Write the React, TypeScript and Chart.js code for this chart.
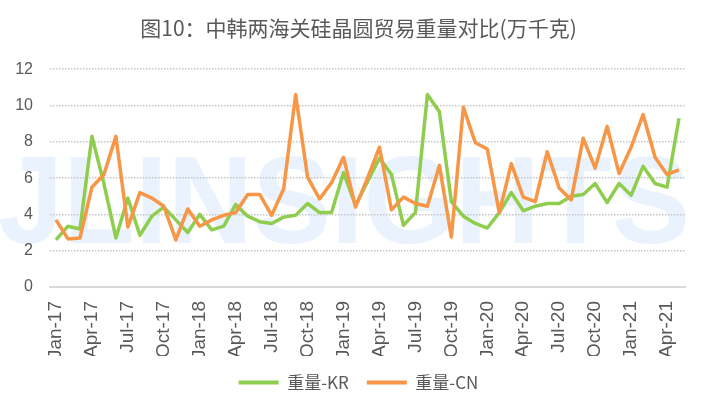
import React, { useEffect, useRef } from 'react';
import { Chart, registerables } from 'chart.js';

Chart.register(...registerables);

const months = [
  'Jan-17', 'Feb-17', 'Mar-17', 'Apr-17', 'May-17', 'Jun-17', 'Jul-17', 'Aug-17', 'Sep-17', 'Oct-17', 'Nov-17', 'Dec-17',
  'Jan-18', 'Feb-18', 'Mar-18', 'Apr-18', 'May-18', 'Jun-18', 'Jul-18', 'Aug-18', 'Sep-18', 'Oct-18', 'Nov-18', 'Dec-18',
  'Jan-19', 'Feb-19', 'Mar-19', 'Apr-19', 'May-19', 'Jun-19', 'Jul-19', 'Aug-19', 'Sep-19', 'Oct-19', 'Nov-19', 'Dec-19',
  'Jan-20', 'Feb-20', 'Mar-20', 'Apr-20', 'May-20', 'Jun-20', 'Jul-20', 'Aug-20', 'Sep-20', 'Oct-20', 'Nov-20', 'Dec-20',
  'Jan-21', 'Feb-21', 'Mar-21', 'Apr-21', 'May-21',
];

// 重量-KR
const weightKR = [
  2.6, 3.35, 3.2, 8.3, 5.7, 2.7, 4.9, 2.85, 3.9, 4.4, 3.7, 3.0,
  4.0, 3.15, 3.35, 4.55, 3.9, 3.6, 3.5, 3.85, 3.95, 4.6, 4.1, 4.1,
  6.3, 4.5, 5.8, 7.1, 6.2, 3.4, 4.1, 10.6, 9.65, 4.7, 3.9, 3.5,
  3.25, 4.1, 5.2, 4.2, 4.45, 4.6, 4.6, 5.0, 5.1, 5.7, 4.65, 5.7,
  5.05, 6.65, 5.7, 5.5, 9.3,
];

// 重量-CN
const weightCN = [
  3.7, 2.65, 2.7, 5.5, 6.2, 8.3, 3.3, 5.2, 4.9, 4.45, 2.6, 4.3,
  3.35, 3.7, 3.95, 4.1, 5.1, 5.1, 3.95, 5.4, 10.6, 6.05, 4.85, 5.75,
  7.15, 4.4, 6.0, 7.7, 4.25, 4.95, 4.6, 4.45, 6.7, 2.75, 9.9, 7.95,
  7.6, 4.1, 6.8, 4.95, 4.7, 7.45, 5.45, 4.8, 8.2, 6.55, 8.85, 6.25,
  7.7, 9.5, 7.15, 6.2, 6.45,
];

const yTicks = [0, 2, 4, 6, 8, 10, 12];

const GREEN = '#8FCD4E';
const ORANGE = '#F79646';
const TEXT = '#595959';

// faint brand text behind the plot
const watermark = {
  id: 'watermark',
  beforeDraw(chart: Chart) {
    const ctx = chart.ctx;
    ctx.save();
    ctx.font = 'bold 124px "Liberation Sans", Arial, sans-serif';
    ctx.fillStyle = '#EAF3FD';
    ctx.textBaseline = 'alphabetic';
    const text = 'JLINSIGHTS';
    const w = ctx.measureText(text).width;
    const target = 692;
    ctx.translate(-2, 243);
    ctx.scale(target / w, 1);
    ctx.fillText(text, 0, 0);
    ctx.restore();
  },
};

const App: React.FC = () => {
  const canvasRef = useRef<HTMLCanvasElement>(null);
  const chartRef = useRef<Chart | null>(null);

  useEffect(() => {
    if (!canvasRef.current) return;
    if (chartRef.current) chartRef.current.destroy();

    chartRef.current = new Chart(canvasRef.current, {
      type: 'line',
      data: {
        labels: months,
        datasets: [
          {
            label: '重量-KR',
            data: weightKR,
            borderColor: GREEN,
            backgroundColor: GREEN,
            borderWidth: 3.5,
            pointRadius: 0,
            tension: 0,
            borderJoinStyle: 'round',
            order: 1,
          },
          {
            label: '重量-CN',
            data: weightCN,
            borderColor: ORANGE,
            backgroundColor: ORANGE,
            borderWidth: 3.5,
            pointRadius: 0,
            tension: 0,
            borderJoinStyle: 'round',
            order: 0,
          },
        ],
      },
      options: {
        responsive: true,
        maintainAspectRatio: false,
        animation: false,
        // side padding keeps title and legend centred like the original
        layout: { padding: { left: 16, right: 8, top: 0, bottom: 12 } },
        scales: {
          x: {
            offset: true,
            grid: { display: false },
            border: { display: true, color: '#D9D9D9', width: 2 },
            ticks: {
              autoSkip: false,
              minRotation: 90,
              maxRotation: 90,
              padding: 6,
              color: TEXT,
              font: { size: 19, family: '"Liberation Sans", Arial, sans-serif' },
              callback: (_v, i) => (i % 3 === 0 ? months[i] : ''),
            },
            afterFit: (scale) => {
              scale.height = 69;
            },
          },
          y: {
            min: yTicks[0],
            max: yTicks[yTicks.length - 1],
            afterBuildTicks: (scale) => {
              scale.ticks = yTicks.map((v) => ({ value: v }));
            },
            grid: {
              drawTicks: false,
              lineWidth: 1.5,
              color: (ctx) => (ctx.tick && ctx.tick.value === 0 ? 'rgba(0,0,0,0)' : '#C6C6C6'),
            },
            border: { display: false, dash: [1.5, 1.5] },
            ticks: {
              padding: 17,
              color: TEXT,
              font: { size: 16, family: '"Liberation Sans", Arial, sans-serif' },
            },
            afterFit: (scale) => {
              scale.width = 34;
            },
          },
          // empty right-hand spacer so the plot ends where the original does
          spacer: {
            type: 'linear',
            position: 'right',
            display: true,
            grid: { display: false, drawOnChartArea: false },
            border: { display: false },
            ticks: { display: false },
            afterFit: (scale) => {
              scale.width = 16;
            },
          },
        },
        plugins: {
          title: {
            display: true,
            text: '图10：中韩两海关硅晶圆贸易重量对比(万千克)',
            color: TEXT,
            font: { size: 21, weight: 'normal', family: '"Noto Sans CJK SC", sans-serif' },
            padding: { top: 15, bottom: 29 },
          },
          legend: {
            position: 'bottom',
            labels: {
              boxWidth: 40,
              boxHeight: 4,
              padding: 18,
              color: TEXT,
              font: { size: 17, family: '"Noto Sans CJK SC", "Liberation Sans", sans-serif' },
              sort: (a, b) => (a.datasetIndex ?? 0) - (b.datasetIndex ?? 0),
              generateLabels: (chart) =>
                Chart.defaults.plugins.legend.labels.generateLabels(chart).map((item) => ({
                  ...item,
                  lineWidth: 0,
                })),
            },
          },
          tooltip: { enabled: false },
        },
      },
      plugins: [watermark],
    });

    return () => {
      if (chartRef.current) {
        chartRef.current.destroy();
        chartRef.current = null;
      }
    };
  }, []);

  return (
    <div style={{ position: 'fixed', left: 0, top: 0, width: 709, height: 413, background: '#fff' }}>
      <canvas ref={canvasRef}></canvas>
    </div>
  );
};

export default App;
